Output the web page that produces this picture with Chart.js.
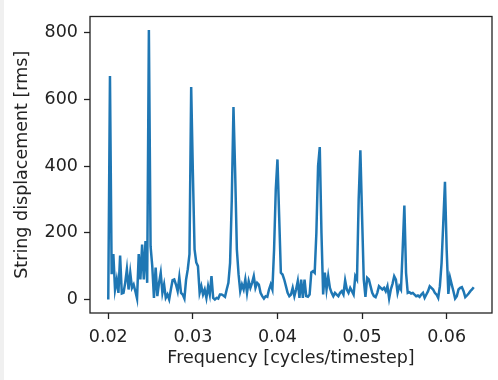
<!DOCTYPE html>
<html><head><meta charset="utf-8">
<script src="https://cdn.jsdelivr.net/npm/chart.js@4.4.0/dist/chart.umd.min.js"></script>
<style>
html,body{margin:0;padding:0;background:#f0f0f0;width:498px;height:380px;overflow:hidden}
#wrap{position:absolute;left:4px;top:0;width:494px;height:380px;background:#fff}
canvas{display:block}
</style></head><body><div id="wrap"><canvas id="c" width="494" height="380"></canvas></div>
<script>
const frequencies = [
0.0200,0.0202,0.0204,0.0206,0.0208,0.0210,0.0212,0.0214,0.0216,0.0218,
0.0220,0.0222,0.0224,0.0226,0.0228,0.0230,0.0232,0.0234,0.0236,0.0238,
0.0240,0.0242,0.0244,0.0246,0.0248,0.0250,0.0252,0.0254,0.0256,0.0258,
0.0260,0.0262,0.0264,0.0266,0.0268,0.0270,0.0272,0.0274,0.0276,0.0278,
0.0280,0.0282,0.0284,0.0286,0.0288,0.0290,0.0292,0.0294,0.0296,0.0298,
0.0300,0.0302,0.0304,0.0306,0.0308,0.0310,0.0312,0.0314,0.0316,0.0318,
0.0320,0.0322,0.0324,0.0326,0.0328,0.0330,0.0332,0.0334,0.0336,0.0338,
0.0340,0.0342,0.0344,0.0346,0.0348,0.0350,0.0352,0.0354,0.0356,0.0358,
0.0360,0.0362,0.0364,0.0366,0.0368,0.0370,0.0372,0.0374,0.0376,0.0378,
0.0380,0.0382,0.0384,0.0386,0.0388,0.0390,0.0392,0.0394,0.0396,0.0398,
0.0400,0.0402,0.0404,0.0406,0.0408,0.0410,0.0412,0.0414,0.0416,0.0418,
0.0420,0.0422,0.0424,0.0426,0.0428,0.0430,0.0432,0.0434,0.0436,0.0438,
0.0440,0.0442,0.0444,0.0446,0.0448,0.0450,0.0452,0.0454,0.0456,0.0458,
0.0460,0.0462,0.0464,0.0466,0.0468,0.0470,0.0472,0.0474,0.0476,0.0478,
0.0480,0.0482,0.0484,0.0486,0.0488,0.0490,0.0492,0.0494,0.0496,0.0498,
0.0500,0.0502,0.0504,0.0506,0.0508,0.0510,0.0512,0.0514,0.0516,0.0518,
0.0520,0.0522,0.0524,0.0526,0.0528,0.0530,0.0532,0.0534,0.0536,0.0538,
0.0540,0.0542,0.0544,0.0546,0.0548,0.0550,0.0552,0.0554,0.0556,0.0558,
0.0560,0.0562,0.0564,0.0566,0.0568,0.0570,0.0572,0.0574,0.0576,0.0578,
0.0580,0.0582,0.0584,0.0586,0.0588,0.0590,0.0592,0.0594,0.0596,0.0598,
0.0600,0.0602,0.0604,0.0606,0.0608,0.0610,0.0612,0.0614,0.0616,0.0618,
0.0620,0.0622,0.0624,0.0626,0.0628,0.0630,0.0632
];
const displacement = [
0,670,76,136,30,60,20,132,18,20,
50,91,30,80,35,45,25,3,136,60,
165,60,175,50,808,160,100,5,96,10,
50,80,20,45,5,15,0,30,58,60,
45,25,67,20,15,3,60,91,136,637,
380,150,111,100,20,40,15,30,5,40,
15,70,5,0,5,3,15,15,12,8,
30,50,110,300,577,380,150,76,25,45,
30,60,20,55,35,50,70,35,50,45,
20,10,3,10,8,30,45,30,150,330,
420,250,80,75,60,40,20,10,15,35,
10,30,55,5,60,5,60,10,8,15,
81,85,80,200,400,457,200,15,81,30,
70,35,20,10,20,15,10,20,25,15,
57,30,20,35,25,15,70,60,300,447,
250,60,8,65,60,40,20,10,7,20,
40,35,30,35,25,40,3,30,47,70,
60,20,40,30,150,282,80,20,22,18,
20,15,10,12,8,15,20,5,15,25,
40,35,30,20,15,5,40,110,230,353,
150,17,66,45,25,3,10,30,35,37,
25,7,12,18,25,30,37
];
const xTicks = [0.02,0.03,0.04,0.05,0.06];
const xTickLabels = ['0.02','0.03','0.04','0.05','0.06'];
const yTicks = [0,200,400,600,800];
const yTickLabels = ['0','200','400','600','800'];

const points = frequencies.map((f,i)=>({x:f,y:displacement[i]}));
const FONT = {family:'DejaVu Sans', size:17.5};
const INK = '#222';

const frame = {id:'frame', afterDatasetsDraw(chart){
  const {ctx, chartArea:a} = chart;
  ctx.save(); ctx.strokeStyle = INK; ctx.lineWidth = 1.3;
  ctx.strokeRect(a.left, a.top, a.right-a.left, a.bottom-a.top);
  ctx.restore();
}};

new Chart(document.getElementById('c'), {
  type:'line',
  data:{datasets:[{data:points, borderColor:'#1f77b4', borderWidth:2.5, pointRadius:0, tension:0, fill:false}]},
  options:{
    responsive:false, animation:false, devicePixelRatio:1,
    layout:{padding:{top:13,right:6,left:0,bottom:0}},
    plugins:{legend:{display:false}, tooltip:{enabled:false}},
    scales:{
      x:{type:'linear', min:0.01784, max:0.06536,
        afterBuildTicks(s){ s.ticks = xTicks.map(v=>({value:v})); },
        afterFit(s){ s.height = 67; },
        ticks:{autoSkip:false, maxRotation:0, padding:8, color:INK, font:FONT,
          callback:(v,i)=>xTickLabels[i]},
        grid:{drawOnChartArea:false, drawTicks:true, tickLength:6, tickColor:INK, tickWidth:1.3},
        border:{display:false},
        title:{display:true, text:'Frequency [cycles/timestep]', color:INK, font:FONT, padding:{top:0,bottom:11}}
      },
      y:{type:'linear', min:-40.4, max:848.4,
        afterBuildTicks(s){ s.ticks = yTicks.map(v=>({value:v})); },
        afterFit(s){ s.width = 86; },
        ticks:{autoSkip:false, padding:6, color:INK, font:FONT,
          callback:(v,i)=>yTickLabels[i]},
        grid:{drawOnChartArea:false, drawTicks:true, tickLength:6, tickColor:INK, tickWidth:1.3},
        border:{display:false},
        title:{display:true, text:'String displacement [rms]', color:INK, font:FONT, padding:{top:8,bottom:0}}
      }
    }
  },
  plugins:[frame]
});
</script></body></html>
